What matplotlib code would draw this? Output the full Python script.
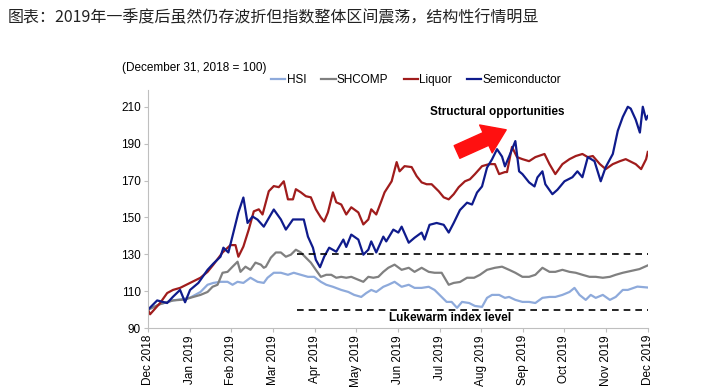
import matplotlib
matplotlib.use("Agg")
import matplotlib.pyplot as plt

plt.rcParams['font.family'] = ['Liberation Sans', 'DejaVu Sans']

# x values are months after Dec 31, 2018 (0 = Dec 2018 tick, 12 = Dec 2019 tick)
month_labels = ['Dec 2018', 'Jan 2019', 'Feb 2019', 'Mar 2019', 'Apr 2019', 'May 2019',
                'Jun 2019', 'Jul 2019', 'Aug 2019', 'Sep 2019', 'Oct 2019', 'Nov 2019',
                'Dec 2019']

hsi_t = [0, 0.29, 0.60, 0.89, 1.01, 1.26, 1.43, 1.57, 1.74, 1.91, 2.03, 2.15, 2.29, 2.46,
         2.63, 2.78, 2.87, 3.02, 3.19, 3.36, 3.50, 3.67, 3.84, 3.99, 4.15, 4.28, 4.44, 4.64,
         4.81, 4.95, 5.12, 5.24, 5.36, 5.48, 5.65, 5.77, 5.92, 6.09, 6.26, 6.40, 6.57, 6.74,
         6.88, 7.05, 7.17, 7.29, 7.42, 7.54, 7.71, 7.85, 8.02, 8.14, 8.26, 8.43, 8.57, 8.67,
         8.82, 8.99, 9.15, 9.30, 9.47, 9.64, 9.78, 9.95, 10.12, 10.24, 10.36, 10.51, 10.63,
         10.75, 10.92, 11.09, 11.23, 11.40, 11.52, 11.75, 12.0]
hsi = [100, 103, 105, 106, 106.5, 109.6, 113.5, 114.5, 115.1, 115.1, 113.5, 115.1, 114.5, 117.3,
       115.1, 114.5, 117.3, 120, 120, 118.9, 120, 118.9, 117.8, 117.8, 115.1, 113.5, 112.4, 110.7,
       109.6, 108, 106.9, 109, 110.7, 109.6, 112.4, 113.5, 115.1, 112.4, 113.5, 111.8, 111.8, 112.4,
       110.7, 106.9, 104.2, 104.2, 101, 104.2, 103.6, 102, 101.5, 106.4, 108, 108, 106.4, 106.9,
       105.3, 104.2, 104.2, 103.6, 106.4, 106.9, 106.9, 108, 109.6, 111.8, 108, 105.3, 108,
       106.4, 108, 105.3, 106.9, 110.7, 110.7, 112.5, 112]

shcomp_t = [0, 0.29, 0.60, 0.89, 1.01, 1.26, 1.43, 1.55, 1.67, 1.79, 1.91, 2.03, 2.15, 2.22,
            2.34, 2.46, 2.58, 2.71, 2.78, 2.83, 2.95, 3.07, 3.19, 3.31, 3.43, 3.55, 3.67, 3.79,
            3.91, 4.03, 4.15, 4.28, 4.40, 4.52, 4.64, 4.76, 4.88, 5.05, 5.17, 5.29, 5.41, 5.53,
            5.65, 5.77, 5.92, 6.09, 6.26, 6.40, 6.57, 6.74, 6.88, 7.05, 7.22, 7.34, 7.49, 7.66,
            7.83, 7.97, 8.14, 8.33, 8.50, 8.67, 8.82, 8.99, 9.15, 9.30, 9.47, 9.64, 9.78, 9.95,
            10.12, 10.27, 10.43, 10.60, 10.75, 10.92, 11.09, 11.23, 11.40, 11.60, 11.80, 12.0]
shcomp = [100, 103, 105, 105.5, 106.4, 108, 109.6, 112.4, 113.5, 120, 120.5, 123.3, 126, 120.5,
          123.3, 121.6, 125.5, 124.4, 122.7, 123.3, 128.2, 131, 131, 128.7, 129.8, 132.5, 131, 128.2,
          125.5, 121.6, 117.8, 118.9, 118.9, 117.3, 117.8, 117.3, 117.8, 116.2, 115.1, 117.8, 117.3, 117.8,
          120.5, 122.7, 124.4, 121.6, 122.7, 120.5, 122.7, 120.5, 120, 120, 113.5, 114.5, 115, 117.3,
          117.3, 118.9, 121.6, 122.7, 123.3, 121.6, 120, 117.8, 117.8, 118.9, 122.7, 120.5, 120.5, 121.6,
          120.5, 120, 118.9, 117.8, 117.8, 117.3, 117.8, 118.9, 120, 121, 122, 124]

liquor_t = [0, 0.05, 0.29, 0.46, 0.60, 0.77, 1.01, 1.26, 1.43, 1.57, 1.79, 1.98, 2.10, 2.17,
            2.29, 2.42, 2.54, 2.66, 2.75, 2.90, 3.02, 3.14, 3.26, 3.36, 3.48, 3.55, 3.67, 3.79,
            3.91, 4.03, 4.15, 4.23, 4.32, 4.44, 4.52, 4.64, 4.76, 4.88, 5.05, 5.17, 5.29, 5.36,
            5.48, 5.60, 5.68, 5.85, 5.97, 6.04, 6.16, 6.33, 6.45, 6.57, 6.69, 6.81, 6.98, 7.10,
            7.22, 7.34, 7.46, 7.61, 7.73, 7.85, 8.02, 8.19, 8.33, 8.43, 8.57, 8.62, 8.74, 8.86,
            8.99, 9.15, 9.30, 9.52, 9.64, 9.78, 9.95, 10.12, 10.27, 10.43, 10.56, 10.68, 10.85,
            10.99, 11.16, 11.33, 11.47, 11.71, 11.84, 11.96, 12.0]
liquor = [100, 97.5, 103.6, 109, 110.7, 111.8, 114.5, 117.3, 120.5, 124.4, 131, 135, 135, 128.7,
          134.2, 143.5, 153.3, 154.4, 151.6, 164.2, 167, 166.4, 169.6, 159.8, 159.8, 165.3, 163.6, 161.5,
          160.9, 154.4, 150, 147.8, 152.7, 163.6, 158.2, 157, 151.6, 155.5, 152.7, 146.2, 148.9, 154.4,
          151.6, 158.7, 163.6, 169.6, 180, 175, 177.8, 177.3, 172.4, 169, 168, 168, 164.2, 160.9,
          159.8, 162.6, 166.4, 169.6, 170.7, 173.5, 177.8, 178.9, 178.9, 173.5, 174.6, 174.6, 188.2, 182.7,
          181.6, 180.5, 182.7, 184.4, 178.9, 173.5, 178.9, 181.6, 183.3, 184.4, 182.7, 183.3, 178.9,
          176.2, 178.9, 180.5, 181.6, 178.9, 176.2, 181.6, 185.5]

semi_t = [0, 0.22, 0.46, 0.60, 0.77, 0.89, 1.01, 1.21, 1.43, 1.57, 1.74, 1.81, 1.93, 2.05,
          2.17, 2.29, 2.39, 2.51, 2.63, 2.78, 3.02, 3.19, 3.31, 3.48, 3.74, 3.84, 3.96, 4.03,
          4.13, 4.23, 4.35, 4.52, 4.69, 4.76, 4.88, 5.05, 5.17, 5.29, 5.36, 5.48, 5.65, 5.72,
          5.89, 6.01, 6.09, 6.26, 6.40, 6.57, 6.64, 6.76, 6.93, 7.10, 7.22, 7.34, 7.49, 7.66,
          7.78, 7.90, 8.02, 8.14, 8.26, 8.38, 8.50, 8.57, 8.67, 8.82, 8.91, 8.99, 9.15, 9.28,
          9.35, 9.47, 9.54, 9.71, 9.83, 10.00, 10.19, 10.31, 10.43, 10.56, 10.72, 10.87, 10.99,
          11.16, 11.28, 11.40, 11.52, 11.59, 11.71, 11.81, 11.88, 11.96, 12.0]
semi = [100, 105, 103.6, 107, 110.7, 104, 110.7, 114.5, 121.6, 125, 128.7, 133.6, 131, 141.8,
        152.7, 160.8, 147, 150.5, 148.8, 145, 154.3, 148.9, 143.4, 148.9, 148.9, 139.6, 133.6, 127,
        123, 128.7, 133.6, 131.4, 138, 134, 140.7, 138, 129.8, 132.5, 137, 131, 139.6, 137,
        143.4, 141.8, 145, 136.3, 139, 141.8, 138, 146, 147, 146, 141.8, 147, 154, 158,
        157, 163.5, 166.8, 177, 181.5, 187, 183, 177.7, 183, 191.4, 175, 173.5, 169, 166.8,
        171.7, 175, 168, 162.6, 165, 169.6, 171.8, 175, 171.8, 182.7, 180.5, 169.6, 177.3,
        184.4, 197, 204.5, 210, 209, 203, 196, 210, 203, 205]

fig = plt.figure(figsize=(7.15, 3.92), dpi=100)
ax = fig.add_axes([0.207, 0.163, 0.699, 0.607])

ax.plot(hsi_t, hsi, color='#8eaadb', lw=1.6, label='HSI')
ax.plot(shcomp_t, shcomp, color='#808080', lw=1.6, label='SHCOMP')
ax.plot(liquor_t, liquor, color='#a01c1c', lw=1.6, label='Liquor')
ax.plot(semi_t, semi, color='#0f1b8c', lw=1.6, label='Semiconductor')

# range band
ax.hlines([130, 100], 3.57, 12, colors='black', linestyles=(0, (4, 3)), lw=1.2)
ax.text(7.25, 95.3, 'Lukewarm index level', ha='center', va='center',
        fontsize=8.5, fontweight='bold')
ax.text(8.38, 207.3, 'Structural opportunities', ha='center', va='center',
        fontsize=8.5, fontweight='bold')
ax.annotate('', xy=(8.6, 197.5), xytext=(7.42, 185.5),
            arrowprops=dict(arrowstyle='simple,head_length=0.8,head_width=1.1,tail_width=0.5',
                            color='#ff1010', mutation_scale=20, shrinkA=0, shrinkB=0))

ax.set_xlim(0, 12)
ax.set_ylim(90, 219)
ax.set_yticks(range(90, 211, 20))
ax.set_xticks(range(13))
ax.set_xticklabels(month_labels, rotation=90)
ax.tick_params(labelsize=8.5, length=3, color='#bfbfbf', pad=2)
for s in ['top', 'right']:
    ax.spines[s].set_visible(False)
for s in ['left', 'bottom']:
    ax.spines[s].set_color('#bfbfbf')

fig.text(0.171, 0.827, '(December 31, 2018 = 100)', ha='left', va='center', fontsize=8.5)
fig.legend(loc='center', bbox_to_anchor=(0.582, 0.796), ncol=4, frameon=False,
           fontsize=8.5, handlelength=1.2, handletextpad=0.1, columnspacing=1.3)

fig.text(0.011, 0.954, '图表：2019年一季度后虽然仍存波折但指数整体区间震荡，结构性行情明显',
         ha='left', va='center', fontsize=11.5, color='#222222',
         family=['Noto Sans CJK SC', 'DejaVu Sans'])

fig.savefig('out.png', dpi=100)
